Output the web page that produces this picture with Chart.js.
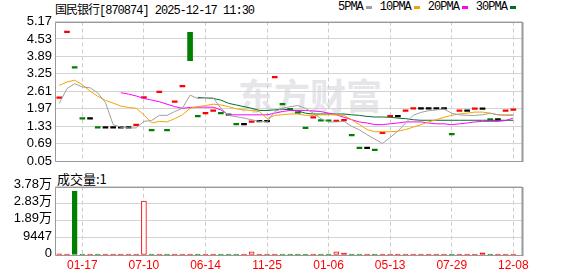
<!DOCTYPE html>
<html>
<head>
<meta charset="utf-8">
<script src="https://cdn.jsdelivr.net/npm/chart.js@4.4.1/dist/chart.umd.min.js"></script>
<style>
    html, body { margin: 0; padding: 0; background: #fff; }
    #wrap { position: relative; width: 578px; height: 276px; overflow: hidden; }
    .mono { font-family: "Liberation Mono", "Noto Sans CJK SC", monospace; font-size: 12px; letter-spacing: -1px; color: #000; white-space: pre; }
    #title { position: absolute; left: 55px; top: 0px; }
    #legend { position: absolute; left: 338px; top: 0px; display: flex; align-items: center; }
    #legend .item { display: flex; align-items: center; margin-right: 8px; }
    #legend i { display: inline-block; width: 6px; height: 3px; margin-left: 3px; }
    #volTitle { position: absolute; left: 57px; top: 169px; font: 13px "Noto Sans CJK SC"; color: #000; }
    #watermark { position: absolute; left: 238px; top: 94px; font: bold 36px "Noto Sans CJK SC"; line-height: 1; transform: translateY(-50%); color: #e6e6ea; }
    canvas { position: absolute; left: 0; }
    #kChart { top: 0; }
    #volChart { top: 172px; }
</style>
</head>
<body>
<div id="wrap">
    <div id="watermark">东方财富</div>
    <div id="title" class="mono">国民银行[870874] 2025-12-17 11:30</div>
    <div id="legend" class="mono"></div>
    <div id="volTitle">成交量:1</div>
    <canvas id="kChart" width="578" height="172"></canvas>
    <canvas id="volChart" width="578" height="104"></canvas>
</div>
<script>
// etiquetas del eje x (indice de la vela donde va cada fecha)
const dateLabels = ['01-17', '07-10', '06-14', '11-25', '01-06', '05-13', '07-29', '12-08'];
const dateIndex = [3, 11, 19, 27, 35, 43, 51, 59];

const priceTicks = ['0.05', '0.69', '1.33', '1.97', '2.61', '3.25', '3.89', '4.53', '5.17'];
const volumeTicks = [0, 9447, 18894, 28341, 37788];
const volumeTickLabels = ['0', '9447', '1.89万', '2.83万', '3.78万'];

const opens = [2.35, 4.76, 3.46, 1.59, 1.59, 1.26, 1.26, 1.26, 1.26, 1.26,
    1.35, 2.36, 1.16, 2.56, 1.16, 2.20, 2.77, 4.77, 1.67, 1.78,
    1.87, 1.78, 1.73, 1.38, 1.38, 1.47, 1.49, 1.49, 3.10, 2.11,
    1.93, 1.80, 1.24, 1.63, 1.52, 1.51, 1.50, 1.53, 0.98, 0.51,
    0.51, 0.44, 1.06, 1.67, 1.67, 1.87, 1.96, 1.96, 1.96, 1.96,
    1.96, 1.01, 1.87, 1.87, 1.95, 1.95, 1.55, 1.55, 1.87, 1.91];

const closes = [2.35, 4.76, 3.46, 1.59, 1.59, 1.26, 1.26, 1.26, 1.26, 1.26,
    1.35, 2.38, 1.16, 2.56, 1.16, 2.20, 2.77, 3.73, 1.67, 1.78,
    1.87, 1.78, 1.73, 1.38, 1.38, 1.49, 1.49, 1.49, 3.10, 2.11,
    1.93, 1.80, 1.24, 1.63, 1.52, 1.51, 1.52, 1.53, 0.98, 0.51,
    0.51, 0.44, 1.06, 1.67, 1.67, 1.87, 1.96, 1.96, 1.96, 1.96,
    1.96, 1.01, 1.87, 1.87, 1.95, 1.95, 1.55, 1.55, 1.87, 1.91];

const volumes = [600, 500, 35300, 500, 500, 500, 500, 500, 500, 500,
    500, 29800, 500, 500, 500, 500, 500, 500, 500, 500,
    500, 500, 500, 500, 500, 1700, 500, 500, 500, 500,
    500, 500, 500, 500, 500, 500, 1700, 1100, 500, 500,
    500, 500, 500, 500, 500, 500, 500, 500, 500, 500,
    500, 500, 500, 500, 500, 1200, 500, 500, 500, 500];

const ma5 = [2.17, 2.71, 2.89, 2.77, 2.74, 2.55, 2.20, 1.39, 1.30, 1.27,
    1.27, 1.51, 1.54, 1.73, 1.73, 1.87, 1.99, 2.47, 2.35, 2.37,
    2.37, 1.99, 1.73, 1.68, 1.63, 1.57, 1.51, 1.49, 1.87, 1.99,
    2.05, 2.09, 1.99, 1.81, 1.61, 1.49, 1.49, 1.51, 1.33, 1.20,
    1.02, 0.86, 0.70, 0.92, 1.15, 1.45, 1.73, 1.84, 1.90, 1.93,
    1.96, 1.81, 1.75, 1.73, 1.73, 1.75, 1.81, 1.75, 1.73, 1.73];

const ma10 = [2.83, 2.95, 3.02, 2.85, 2.62, 2.43, 2.28, 2.18, 2.07, 2.02,
    1.99, 1.75, 1.45, 1.51, 1.49, 1.61, 1.75, 1.99, 2.05, 2.09,
    2.14, 2.11, 2.05, 1.97, 1.93, 1.91, 1.87, 1.61, 1.73, 1.75,
    1.78, 1.78, 1.73, 1.73, 1.75, 1.75, 1.75, 1.73, 1.57, 1.39,
    1.21, 1.13, 1.13, 1.13, 1.15, 1.21, 1.30, 1.39, 1.49, 1.57,
    1.66, 1.73, 1.78, 1.81, 1.85, 1.85, 1.81, 1.75, 1.75, 1.75];

const ma20 = [null, null, null, null, null, null, null, null, 2.56, 2.51,
    2.44, 2.35, 2.29, 2.23, 2.14, 2.05, 1.99, 2.02, 2.03, 2.03,
    2.03, 1.93, 1.75, 1.75, 1.75, 1.75, 1.75, 1.75, 1.81, 1.87,
    1.91, 1.91, 1.91, 1.89, 1.87, 1.81, 1.75, 1.66, 1.57, 1.49,
    1.45, 1.39, 1.39, 1.42, 1.45, 1.49, 1.49, 1.49, 1.45, 1.42,
    1.42, 1.39, 1.42, 1.45, 1.49, 1.51, 1.51, 1.51, 1.54, 1.63];

const ma30 = [null, null, null, null, null, null, null, null, null, null,
    null, null, null, null, null, null, null, null, 2.39, 2.37,
    2.35, 2.29, 2.17, 2.11, 2.05, 1.99, 1.91, 1.91, 1.93, 1.96,
    1.93, 1.89, 1.81, 1.78, 1.78, 1.78, 1.78, 1.78, 1.75, 1.73,
    1.69, 1.67, 1.67, 1.66, 1.63, 1.61, 1.57, 1.55, 1.55, 1.55,
    1.55, 1.55, 1.55, 1.55, 1.55, 1.55, 1.55, 1.55, 1.55, 1.55];

const ROJO = '#ff0000';
const VERDE = '#007f00';
const NEGRO = '#000000';

const medias = [
    { label: '5PMA', data: ma5, color: '#a0a0a0' },
    { label: '10PMA', data: ma10, color: '#f5a300' },
    { label: '20PMA', data: ma20, color: '#ff00ff' },
    { label: '30PMA', data: ma30, color: '#006f2c' }
];

// leyenda: texto y despues el cuadrito de color
const legendBox = document.getElementById('legend');
medias.forEach(m => {
    const item = document.createElement('span');
    item.className = 'item';
    item.textContent = m.label;
    const mark = document.createElement('i');
    mark.style.background = m.color;
    item.appendChild(mark);
    legendBox.appendChild(item);
});

// color de la vela: cuerpo, y si no hay cuerpo se compara con el cierre anterior
function colorVela(i) {
    if (closes[i] > opens[i]) return ROJO;
    if (closes[i] < opens[i]) return VERDE;
    if (i === 0 || closes[i] > closes[i - 1]) return ROJO;
    if (closes[i] < closes[i - 1]) return VERDE;
    return NEGRO;
}
function colorVolumen(i) {
    return (i === 0 || closes[i] >= closes[i - 1]) ? ROJO : VERDE;
}

const marco = {
    id: 'marco',
    beforeDatasetsDraw(chart) {
        const { ctx, chartArea: a } = chart;
        const l = Math.round(a.left) + 0.5, t = Math.round(a.top) + 0.5;
        const r = Math.round(a.right) + 0.5, b = Math.round(a.bottom) + 0.5;
        ctx.save();
        ctx.strokeStyle = '#999999';
        ctx.lineWidth = 1;
        ctx.beginPath();
        ctx.moveTo(l, b); ctx.lineTo(l, t); ctx.lineTo(r, t);
        ctx.moveTo(l, b); ctx.lineTo(r, b);
        ctx.stroke();
        ctx.lineWidth = 2;
        ctx.beginPath();
        ctx.moveTo(r, t - 0.5); ctx.lineTo(r, b + 0.5);
        ctx.stroke();
        ctx.restore();
    }
};

function ejeX(conEtiquetas) {
    return {
        type: 'linear',
        min: -0.555,
        max: 60.13,
        offset: false,
        grid: { color: '#cccccc', drawTicks: false, offset: false },
        border: { display: false, dash: [4, 3] },
        afterBuildTicks: s => { s.ticks = dateIndex.map(v => ({ value: v })); },
        afterFit: s => { s.height = conEtiquetas ? 21 : 0; },
        ticks: {
            display: conEtiquetas,
            autoSkip: false,
            maxRotation: 0,
            padding: 3,
            color: ROJO,
            font: { family: '"Liberation Sans", Arial', size: 12 },
            callback: (v, i) => dateLabels[i]
        }
    };
}

// Grafico de velas
const ctxK = document.getElementById('kChart').getContext('2d');
new Chart(ctxK, {
    type: 'bar',
    data: {
        datasets: [
            ...medias.map((m, k) => ({
                type: 'line',
                label: m.label,
                data: m.data.map((v, i) => ({ x: i, y: v })),
                borderColor: m.color,
                borderWidth: 1,
                pointRadius: 0,
                tension: 0,
                order: k
            })),
            {
                type: 'bar',
                label: 'K',
                data: closes.map((c, i) => ({ x: i, y: [opens[i], c] })),
                backgroundColor: closes.map((c, i) => colorVela(i)),
                borderWidth: 0,
                barThickness: 5,
                minBarLength: 1.6,
                order: 10
            }
        ]
    },
    options: {
        responsive: false,
        animation: false,
        events: [],
        layout: { padding: { top: 21.5, right: 56, bottom: 7.7, left: 0 } },
        plugins: { legend: { display: false }, tooltip: { enabled: false } },
        scales: {
            x: ejeX(false),
            y: {
                type: 'linear',
                min: 0.05,
                max: 5.17,
                afterBuildTicks: s => { s.ticks = priceTicks.map(t => ({ value: parseFloat(t) })); },
                afterFit: s => { s.width = 55; },
                grid: { color: '#d4d4d4', drawTicks: false },
                border: { display: false },
                ticks: {
                    autoSkip: false,
                    padding: 3,
                    color: '#000',
                    font: { family: '"Liberation Sans", Arial', size: 13 },
                    callback: (v, i) => priceTicks[i]
                }
            }
        }
    },
    plugins: [marco]
});

// Grafico de volumen
const ctxV = document.getElementById('volChart').getContext('2d');
new Chart(ctxV, {
    type: 'bar',
    data: {
        datasets: [{
            label: '成交量',
            data: volumes.map((v, i) => ({ x: i, y: v })),
            backgroundColor: volumes.map((v, i) => closes[i] > opens[i] ? '#ffffff' : colorVolumen(i)),
            borderColor: volumes.map((v, i) => colorVolumen(i)),
            borderWidth: 1,
            borderSkipped: false,
            barThickness: 5
        }]
    },
    options: {
        responsive: false,
        animation: false,
        events: [],
        layout: { padding: { top: 14.7, right: 56, bottom: 0, left: 0 } },
        plugins: { legend: { display: false }, tooltip: { enabled: false } },
        scales: {
            x: ejeX(true),
            y: {
                type: 'linear',
                min: 0,
                max: 37788,
                afterBuildTicks: s => { s.ticks = volumeTicks.map(v => ({ value: v })); },
                afterFit: s => { s.width = 55; },
                grid: { color: '#d4d4d4', drawTicks: false },
                border: { display: false },
                ticks: {
                    autoSkip: false,
                    padding: 3,
                    labelOffset: -2,
                    color: '#000',
                    font: { family: '"Liberation Sans", "Noto Sans CJK SC", Arial', size: 13 },
                    callback: (v, i) => volumeTickLabels[i]
                }
            }
        }
    },
    plugins: [marco]
});
</script>
</body>
</html>
